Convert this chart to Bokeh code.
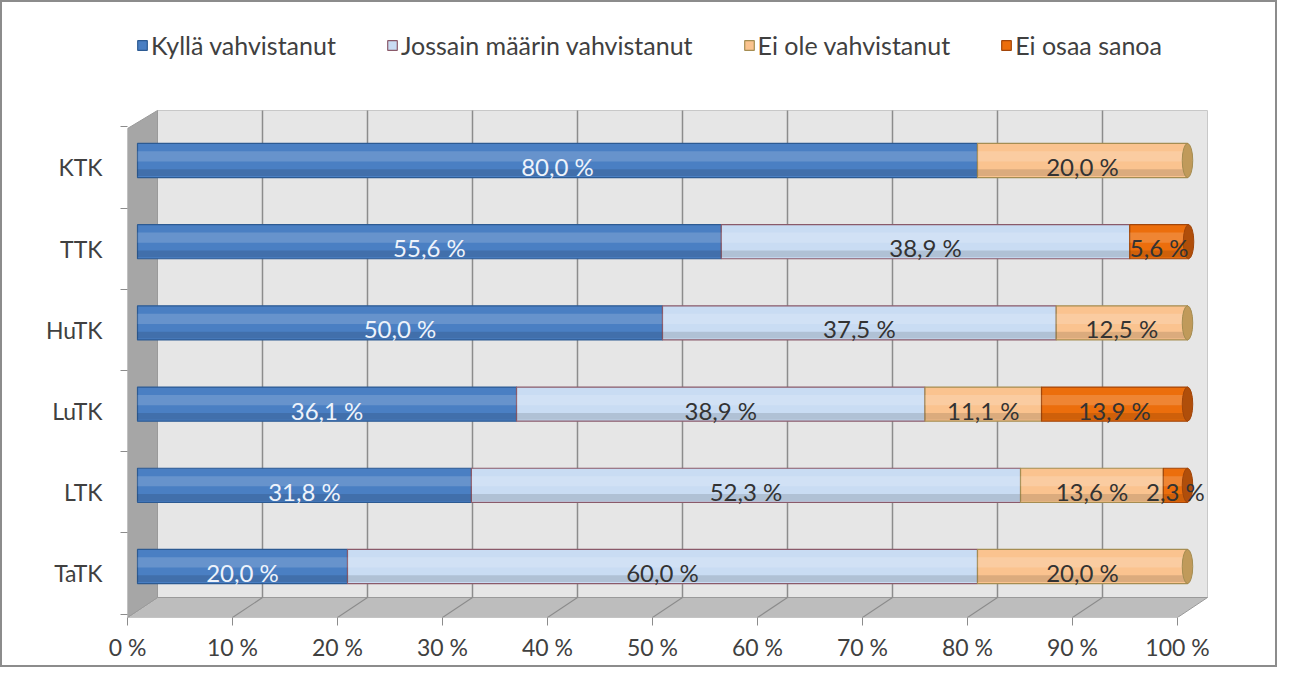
import numpy as np
from bokeh.plotting import figure
from bokeh.models import Range1d, LinearAxis, FixedTicker, ColumnDataSource, Legend, LegendItem
from bokeh.core.properties import value
from bokeh.embed import file_html
from bokeh.resources import INLINE

# ---------------- data ----------------
categories = ["TaTK", "LTK", "LuTK", "HuTK", "TTK", "KTK"]
kylla = [20.0, 31.8, 36.1, 50.0, 55.6, 80.0]
jossain = [60.0, 52.3, 38.9, 37.5, 38.9, 0.0]
ei_ole = [20.0, 13.6, 11.1, 12.5, 0.0, 20.0]
ei_osaa = [0.0, 2.3, 13.9, 0.0, 5.6, 0.0]
series_names = ["Kyllä vahvistanut", "Jossain määrin vahvistanut",
                "Ei ole vahvistanut", "Ei osaa sanoa"]
x_ticks = [0, 10, 20, 30, 40, 50, 60, 70, 80, 90, 100]
x_tick_labels = ["0 %", "10 %", "20 %", "30 %", "40 %", "50 %",
                 "60 %", "70 %", "80 %", "90 %", "100 %"]

# ---------------- styles ----------------
FONT = "Lato"
fills = ["#4a7fc3", "#c9dcf3", "#fac38f", "#ec6e0c"]
lines = ["#2c5a92", "#8a5a6a", "#a58d52", "#a2460a"]
caps = ["#30609a", "#9fb6d2", "#c09a5a", "#b04e0a"]
label_colors = ["#eef3fb", "#333333", "#333333", "#333333"]
BAR_H = 0.42
BACK = 1.905     # depth offset of back wall (x units)
FRONT = -0.952   # front edge (x units)
WALL_TOP, WALL_BOT, FLOOR_FRONT, SIDE_TOP = 5.616, -0.382, -0.628, 5.394

p = figure(width=1277, height=667, output_backend="svg", toolbar_location=None,
           x_range=Range1d(-0.952, 102.667), y_range=Range1d(-0.628, 6.946),
           x_axis_location=None, y_axis_location=None,
           min_border_left=125, min_border_right=64, min_border_top=0, min_border_bottom=52)
p.grid.visible = False
p.outline_line_color = None
p.background_fill_color = "white"
p.border_fill_color = "white"
p.styles = {"border": "2px solid #8c8c8c"}

p.extra_x_ranges = {"front": Range1d(0, 103.62)}
p.extra_y_ranges = {"lab": Range1d(-0.628 + 0.086, 6.946 + 0.086)}

# ---------------- 3D walls ----------------
p.quad(left=BACK, right=100 + BACK, bottom=WALL_BOT, top=WALL_TOP,
       fill_color="#e6e6e6", line_color="#c8c8c8", line_width=1)
p.patch([FRONT, FRONT + 100, 100 + BACK, BACK], [FLOOR_FRONT, FLOOR_FRONT, WALL_BOT, WALL_BOT],
        fill_color="#bdbdbd", line_color="#9a9a9a", line_width=1)
p.patch([FRONT, FRONT, BACK, BACK], [FLOOR_FRONT, SIDE_TOP, WALL_TOP, WALL_BOT],
        fill_color="#a6a6a6", line_color="#9a9a9a", line_width=1)

gx = [t + BACK for t in x_ticks[1:-1]]
p.segment(x0=gx, y0=[WALL_BOT] * len(gx), x1=gx, y1=[WALL_TOP] * len(gx),
          line_color="#8c8c8c", line_width=1.5)
fx = [t + FRONT for t in x_ticks[1:-1]]
p.segment(x0=gx, y0=[WALL_BOT] * len(gx), x1=fx, y1=[FLOOR_FRONT] * len(gx),
          line_color="#8c8c8c", line_width=1.2)

# ---------------- bars ----------------
ys = list(range(len(categories)))
series = [kylla, jossain, ei_ole, ei_osaa]
arr = np.array(series)
lefts = np.vstack([np.zeros(len(categories)), np.cumsum(arr, axis=0)[:-1]])
rights = np.cumsum(arr, axis=0)

renderers = []
for i, vals in enumerate(series):
    src = ColumnDataSource(dict(y=ys, left=lefts[i], right=rights[i]))
    r = p.hbar(y="y", left="left", right="right", height=BAR_H, source=src,
               fill_color=fills[i], line_color=lines[i], line_width=1.2)
    renderers.append(r)
    # cylinder highlight / shade
    hl = ColumnDataSource(dict(y=[y + 0.05 for y in ys], left=lefts[i], right=rights[i],
                               a=[0.16 if v > 0 else 0.0 for v in vals]))
    p.hbar(y="y", left="left", right="right", height=BAR_H * 0.3, source=hl,
           fill_color="white", fill_alpha="a", line_color=None)
    sh = ColumnDataSource(dict(y=[y - 0.15 for y in ys], left=lefts[i], right=rights[i],
                               a=[0.12 if v > 0 else 0.0 for v in vals]))
    p.hbar(y="y", left="left", right="right", height=BAR_H * 0.2, source=sh,
           fill_color="black", fill_alpha="a", line_color=None)

# end caps
totals = rights[-1]
last_idx = [max(i for i in range(4) if arr[i, j] > 0) for j in range(len(categories))]
p.ellipse(x=list(totals), y=ys, width=1.0, height=BAR_H,
          fill_color=[caps[k] for k in last_idx], line_color=[lines[k] for k in last_idx])

# data labels
for i, vals in enumerate(series):
    xs, yy, tx = [], [], []
    for j, v in enumerate(vals):
        if v > 0:
            xs.append((lefts[i][j] + rights[i][j]) / 2)
            yy.append(ys[j])
            tx.append(f"{v:.1f}".replace(".", ",") + " %")
    p.text(x=xs, y=yy, text=tx, text_font=value(FONT), text_font_size="24px",
           text_color=label_colors[i], text_align="center", text_baseline="middle",
           y_offset=6)

# ---------------- axes ----------------
xa = LinearAxis(x_range_name="front", ticker=FixedTicker(ticks=x_ticks))
xa.major_label_overrides = {t: l for t, l in zip(x_ticks, x_tick_labels)}
xa.axis_line_color = None
xa.major_tick_line_color = "#8c8c8c"
xa.major_tick_out = 8
xa.major_tick_in = 0
xa.minor_tick_line_color = None
xa.major_label_standoff = 7
xa.major_label_text_font = FONT
xa.major_label_text_font_size = "23px"
xa.major_label_text_color = "#404040"
p.add_layout(xa, "below")

ya = LinearAxis(y_range_name="lab",
                ticker=FixedTicker(ticks=ys, minor_ticks=[y - 0.5 for y in ys] + [ys[-1] + 0.5]))
ya.major_label_overrides = {y: c for y, c in zip(ys, categories)}
ya.axis_line_color = None
ya.major_tick_line_color = None
ya.major_tick_out = 0
ya.major_tick_in = 0
ya.minor_tick_line_color = "#8c8c8c"
ya.minor_tick_out = 7
ya.minor_tick_in = 0
ya.major_label_standoff = 18
ya.major_label_text_font = FONT
ya.major_label_text_font_size = "23px"
ya.major_label_text_color = "#404040"
p.add_layout(ya, "left")

# ---------------- legend ----------------
legend = Legend(items=[LegendItem(label=n, renderers=[r]) for n, r in zip(series_names, renderers)],
                orientation="horizontal", location=(9, 557),
                label_text_font=FONT, label_text_font_size="25px", label_text_color="#404040",
                glyph_width=12, glyph_height=12, label_standoff=3, spacing=50,
                padding=0, margin=0, border_line_color=None, background_fill_alpha=0)
p.add_layout(legend)

open("out.html", "w").write(file_html(p, INLINE))
